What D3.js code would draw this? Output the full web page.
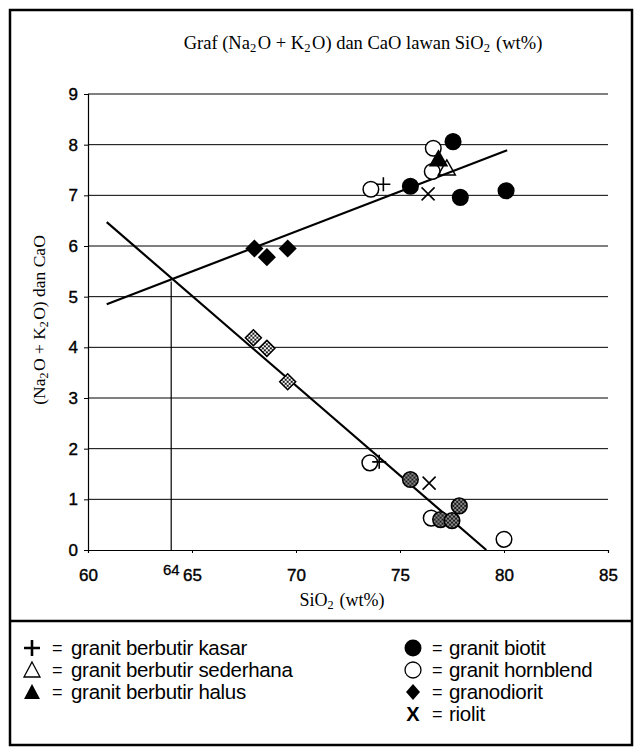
<!DOCTYPE html>
<html><head><meta charset="utf-8">
<script src="https://cdn.jsdelivr.net/npm/d3@7"></script>
<style>html,body{margin:0;padding:0;background:#fff}</style>
</head><body><svg id="c" width="642" height="753"></svg>
<script>
const xTicks = [60, 65, 70, 75, 80, 85];
const yTicks = [0, 1, 2, 3, 4, 5, 6, 7, 8, 9];

// (Na2O + K2O) against SiO2, [SiO2, value]
const alkKasar = [[74.2, 7.22]];
const alkSederhana = [[77.25, 7.52]];
const alkHalus = [[76.85, 7.70]];
const alkBiotit = [[75.5, 7.18], [77.55, 8.06], [77.9, 6.96], [80.1, 7.09]];
const alkHornblend = [[73.6, 7.12], [76.6, 7.93], [76.55, 7.47]];
const alkGranodiorit = [[68.0, 5.95], [68.6, 5.78], [69.6, 5.95]];
const alkRiolit = [[76.35, 7.03]];

// CaO against SiO2, [SiO2, value]
const caoKasar = [[74.0, 1.74]];
const caoBiotit = [[75.5, 1.39], [76.95, 0.60], [77.5, 0.58], [77.85, 0.87]];
const caoHornblend = [[73.55, 1.72], [76.5, 0.63], [80.0, 0.21]];
const caoGranodiorit = [[67.95, 4.19], [68.6, 3.98], [69.6, 3.32]];
const caoRiolit = [[76.4, 1.32]];

// fitted trends and the SiO2 value where they cross
const alkTrend = [[60.9, 4.85], [80.15, 7.89]];
const caoTrend = [[60.9, 6.47], [79.15, 0]];
const crossSiO2 = 64, crossValue = 5.3;

const legendLeft = [["plus", "granit berbutir kasar"], ["triOpen", "granit berbutir sederhana"], ["triFill", "granit berbutir halus"]];
const legendRight = [["dotFill", "granit biotit"], ["dotOpen", "granit hornblend"], ["diamond", "granodiorit"], ["xmark", "riolit"]];

const svg = d3.select("#c");
const sans = "Liberation Sans, Arial, sans-serif";
const serif = "Liberation Serif, Times New Roman, serif";

// fill patterns for the CaO markers
const defs = svg.append("defs");
const pd = defs.append("pattern").attr("id", "hatchDark").attr("patternUnits", "userSpaceOnUse").attr("width", 4).attr("height", 4);
pd.append("rect").attr("width", 4).attr("height", 4).attr("fill", "#1c1c1c");
pd.append("path").attr("d", "M0,0L4,4M4,0L0,4").attr("stroke", "#bbb").attr("stroke-width", 0.7);
const pl = defs.append("pattern").attr("id", "hatchLight").attr("patternUnits", "userSpaceOnUse").attr("width", 4).attr("height", 4);
pl.append("rect").attr("width", 4).attr("height", 4).attr("fill", "#fff");
pl.append("path").attr("d", "M0,0L4,4M4,0L0,4").attr("stroke", "#000").attr("stroke-width", 0.9);

// frames
svg.append("rect").attr("x", 10).attr("y", 10).attr("width", 622).attr("height", 735)
  .attr("fill", "none").attr("stroke", "#000").attr("stroke-width", 2.5);
svg.append("line").attr("x1", 10).attr("x2", 632).attr("y1", 621).attr("y2", 621)
  .attr("stroke", "#000").attr("stroke-width", 2.5);

const x = d3.scaleLinear().domain([60, 85]).range([88, 608]);
const y = d3.scaleLinear().domain([0, 9]).range([550, 94]);

// gridlines
svg.append("g").selectAll("line").data(yTicks.filter(d => d > 0)).join("line")
  .attr("x1", x(60)).attr("x2", x(85)).attr("y1", d => y(d)).attr("y2", d => y(d))
  .attr("stroke", "#000").attr("stroke-width", 1);

// axes
const yAxis = svg.append("g").attr("transform", `translate(${x(60)},0)`)
  .call(d3.axisLeft(y).tickValues(yTicks).tickSize(4).tickPadding(6).tickFormat(d3.format("d")));
const xAxis = svg.append("g").attr("transform", `translate(0,${y(0)})`)
  .call(d3.axisBottom(x).tickValues(xTicks).tickSize(3).tickPadding(16).tickFormat(d3.format("d")));
[yAxis, xAxis].forEach(a => {
  a.select(".domain").attr("stroke", "#000").attr("stroke-width", 1.2);
  a.selectAll(".tick line").attr("stroke", "#000");
  a.selectAll("text").attr("font-family", sans).attr("font-size", 17).attr("fill", "#000")
    .attr("stroke", "#000").attr("stroke-width", 0.4);
});
xAxis.selectAll("text").attr("dy", "0.71em");

// intersection marker at 64 % SiO2
svg.append("line").attr("x1", x(crossSiO2)).attr("x2", x(crossSiO2))
  .attr("y1", y(0)).attr("y2", y(crossValue)).attr("stroke", "#000").attr("stroke-width", 1.2);
svg.append("text").attr("x", 163).attr("y", 575)
  .attr("font-family", sans).attr("font-size", 15).attr("stroke", "#000").attr("stroke-width", 0.3)
  .text(String(crossSiO2));

// trend lines
const line = d3.line().x(d => x(d[0])).y(d => y(d[1]));
[alkTrend, caoTrend].forEach(t => svg.append("path").attr("d", line(t))
  .attr("fill", "none").attr("stroke", "#000").attr("stroke-width", 2.2));

// marker shapes
const shapes = {
  plus: "M-7,0H7M0,-7V7",
  xmark: "M-6.5,-6.5L6.5,6.5M-6.5,6.5L6.5,-6.5",
  diamond: "M0,-8L8,0L0,8L-8,0Z",
  tri: "M0,-9L8.5,6L-8.5,6Z"
};
function drawSet(data, kind, fill) {
  const g = svg.append("g");
  data.forEach(([sx, v]) => {
    const t = `translate(${x(sx)},${y(v)})`;
    if (kind === "circle") {
      g.append("circle").attr("transform", t).attr("r", 7.8)
        .attr("fill", fill).attr("stroke", "#000").attr("stroke-width", 1.5);
    } else if (kind === "plus" || kind === "xmark") {
      g.append("path").attr("transform", t).attr("d", shapes[kind])
        .attr("fill", "none").attr("stroke", "#000").attr("stroke-width", 1.6);
    } else {
      g.append("path").attr("transform", t).attr("d", shapes[kind])
        .attr("fill", fill).attr("stroke", "#000").attr("stroke-width", 1.5);
    }
  });
}

// CaO markers
drawSet(caoGranodiorit, "diamond", "url(#hatchLight)");
drawSet(caoHornblend, "circle", "#fff");
drawSet(caoBiotit, "circle", "url(#hatchDark)");
drawSet(caoKasar, "plus");
drawSet(caoRiolit, "xmark");

// Na2O + K2O markers
drawSet(alkGranodiorit, "diamond", "#000");
drawSet(alkHornblend, "circle", "#fff");
drawSet(alkBiotit, "circle", "#000");
drawSet(alkHalus, "tri", "#000");
drawSet(alkSederhana, "tri", "none");
drawSet(alkKasar, "plus");
drawSet(alkRiolit, "xmark");

// title and axis titles with subscripts
function rich(sel, parts) {
  parts.forEach(p => {
    if (typeof p === "string") sel.append("tspan").text(p);
    else {
      sel.append("tspan").attr("font-size", "0.68em").attr("dy", 3).text(p.sub);
      sel.append("tspan").attr("dy", -3).text("\u200A");
    }
  });
}
const title = svg.append("text").attr("x", 363).attr("y", 49).attr("text-anchor", "middle")
  .attr("font-family", serif).attr("font-size", 18.5);
rich(title, ["Graf (Na", {sub: "2"}, "O + K", {sub: "2"}, "O) dan CaO lawan SiO", {sub: "2"}, " (wt%)"]);

const yl = svg.append("text").attr("transform", "translate(45,320) rotate(-90)").attr("text-anchor", "middle")
  .attr("font-family", serif).attr("font-size", 17.5);
rich(yl, ["(Na", {sub: "2"}, "O + K", {sub: "2"}, "O) dan CaO"]);

const xl = svg.append("text").attr("x", 342).attr("y", 606).attr("text-anchor", "middle")
  .attr("font-family", serif).attr("font-size", 18);
rich(xl, ["SiO", {sub: "2"}, " (wt%)"]);

// legend
function legendSym(g, kind, cx, cy) {
  const t = `translate(${cx},${cy})`;
  if (kind === "plus") g.append("path").attr("transform", t).attr("d", "M-8,0H8M0,-8V8").attr("stroke", "#000").attr("stroke-width", 2.6);
  if (kind === "triOpen") g.append("path").attr("transform", t).attr("d", "M0,-8L8,7L-8,7Z").attr("fill", "none").attr("stroke", "#000").attr("stroke-width", 1.3);
  if (kind === "triFill") g.append("path").attr("transform", t).attr("d", "M0,-8L8,7L-8,7Z").attr("fill", "#000");
  if (kind === "dotFill") g.append("circle").attr("transform", t).attr("r", 8.5).attr("fill", "#000");
  if (kind === "dotOpen") g.append("circle").attr("transform", t).attr("r", 8).attr("fill", "#fff").attr("stroke", "#000").attr("stroke-width", 1.3);
  if (kind === "diamond") g.append("path").attr("transform", t).attr("d", "M0,-8L7,0L0,8L-7,0Z").attr("fill", "#000");
  if (kind === "xmark") g.append("text").attr("x", cx).attr("y", cy + 7).attr("text-anchor", "middle")
    .attr("font-family", sans).attr("font-weight", "bold").attr("font-size", 20).text("X");
}
const lg = svg.append("g");
function legendCol(entries, sx, ex, tx) {
  entries.forEach(([kind, label], i) => {
    const cy = 648 + i * 22;
    legendSym(lg, kind, sx, cy);
    lg.append("text").attr("x", ex).attr("y", cy + 6).attr("font-family", sans).attr("font-size", 18).text("=");
    lg.append("text").attr("x", tx).attr("y", cy + 7).attr("font-family", sans).attr("font-size", 20.5)
      .attr("letter-spacing", -0.3).text(label);
  });
}
legendCol(legendLeft, 32, 52, 71);
legendCol(legendRight, 413, 432, 449);
</script></body></html>
